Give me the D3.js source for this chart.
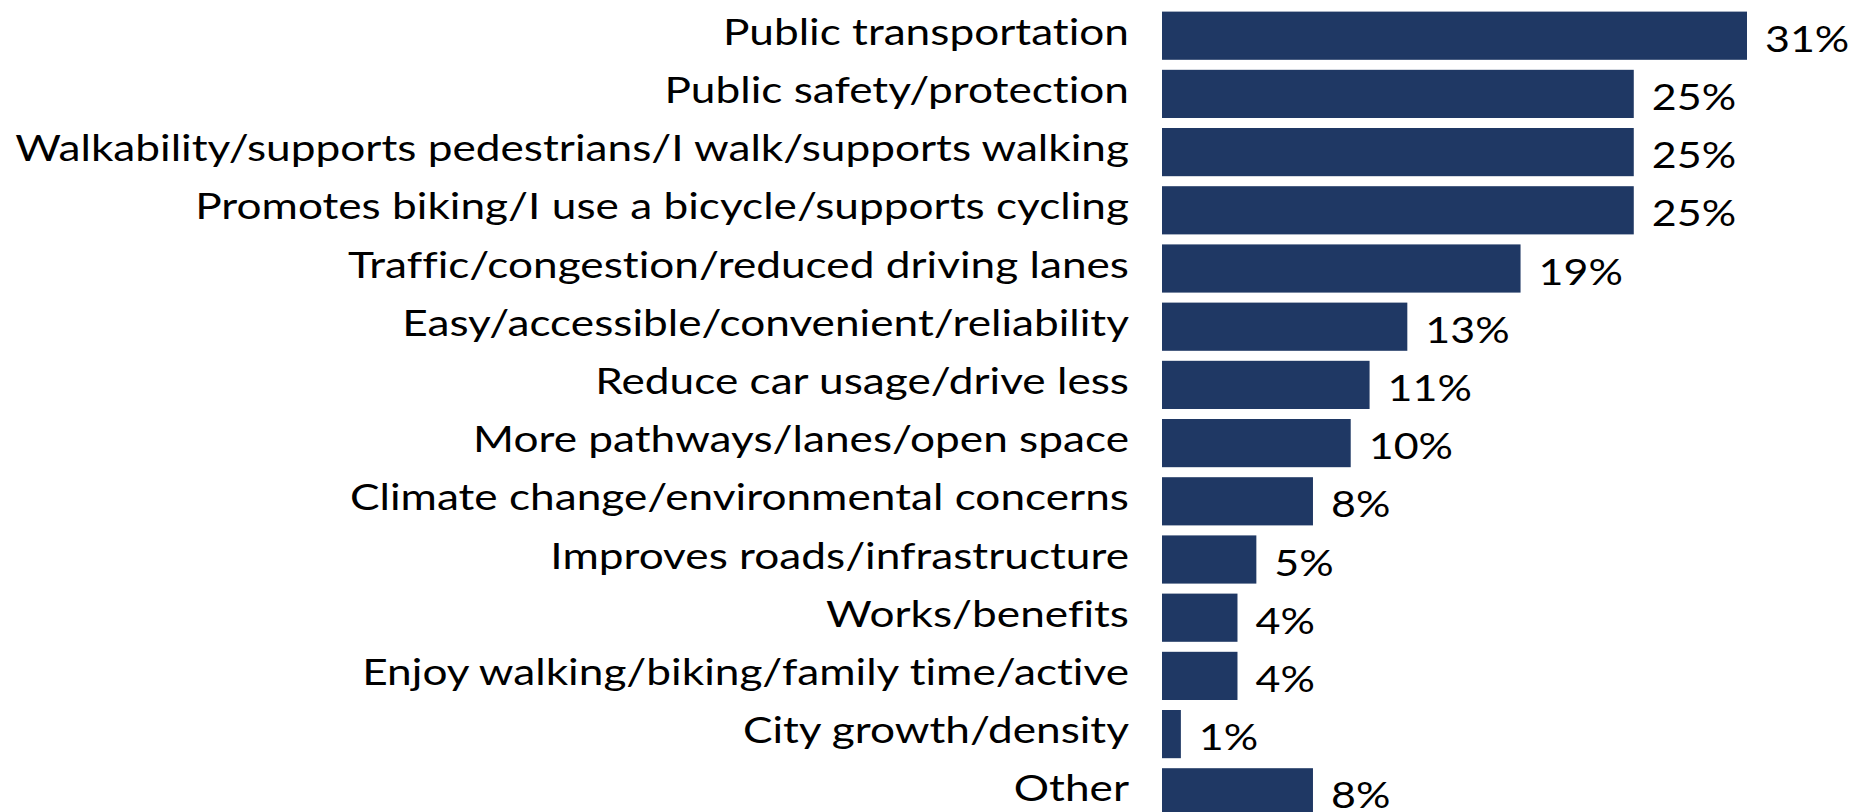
<!DOCTYPE html>
<html>
<head>
    <title>Reasons</title>
    <style>
        html, body { margin: 0; padding: 0; background: #fff; }
        svg { display: block; }
        text { font-family: Lato, "Open Sans", sans-serif; fill: #000; font-variant-ligatures: none; }
    </style>
    <script src="https://d3js.org/d3.v7.min.js"></script>
</head>
<body>
<svg id="chart"></svg>
<script>
    // Data
    const categories = [
        'Public transportation',
        'Public safety/protection',
        'Walkability/supports pedestrians/I walk/supports walking',
        'Promotes biking/I use a bicycle/supports cycling',
        'Traffic/congestion/reduced driving lanes',
        'Easy/accessible/convenient/reliability',
        'Reduce car usage/drive less',
        'More pathways/lanes/open space',
        'Climate change/environmental concerns',
        'Improves roads/infrastructure',
        'Works/benefits',
        'Enjoy walking/biking/family time/active',
        'City growth/density',
        'Other'
    ];
    const values = [31, 25, 25, 25, 19, 13, 11, 10, 8, 5, 4, 4, 1, 8];

    const SIZES = {
        WIDTH: 1851,
        HEIGHT: 812,
        BAR_LEFT: 1162,
        LABEL_RIGHT: 1129,
        LABEL_WIDTH: 1114, // width of the longest label
        FONT: 37,
        VALUE_FONT: 36,
        VALUE_GAP: 18
    };
    const BAR_COLOR = '#1f3864';

    const svg = d3.select('#chart')
        .attr('width', SIZES.WIDTH)
        .attr('height', SIZES.HEIGHT);

    const rows = categories.map((c, i) => ({name: c, value: values[i]}));

    // 1% is about 18.87px
    const x = d3.scaleLinear().domain([0, 31]).range([SIZES.BAR_LEFT, SIZES.BAR_LEFT + 585]);
    const y = d3.scaleBand()
        .domain(categories)
        .range([6.6, 6.6 + 14 * 58.2])
        .paddingInner(0.172)
        .paddingOuter(0.086);

    // measure the longest label to squeeze Lato to the width of the original font
    const probe = svg.append('text')
        .style('font-size', SIZES.FONT + 'px')
        .text(categories[2]);
    const sx = SIZES.LABEL_WIDTH / probe.node().getComputedTextLength();
    probe.remove();

    svg.selectAll('rect.bar')
        .data(rows)
        .enter()
        .append('rect')
        .attr('class', 'bar')
        .attr('x', x(0))
        .attr('y', d => y(d.name))
        .attr('width', d => x(d.value) - x(0))
        .attr('height', y.bandwidth())
        .attr('fill', BAR_COLOR);

    // category labels
    svg.selectAll('text.cat')
        .data(rows)
        .enter()
        .append('text')
        .attr('class', 'cat')
        .attr('text-anchor', 'end')
        .attr('transform', d => `translate(${SIZES.LABEL_RIGHT},${y(d.name) + y.bandwidth() / 2 + 9}) scale(${sx},1)`)
        .style('font-size', SIZES.FONT + 'px')
        .text(d => d.name);

    // value labels
    svg.selectAll('text.val')
        .data(rows)
        .enter()
        .append('text')
        .attr('class', 'val')
        .attr('transform', d => `translate(${x(d.value) + SIZES.VALUE_GAP},${y(d.name) + y.bandwidth() / 2 + 16}) scale(${sx},1)`)
        .style('font-size', SIZES.VALUE_FONT + 'px')
        .text(d => d.value + '%');
</script>
</body>
</html>
